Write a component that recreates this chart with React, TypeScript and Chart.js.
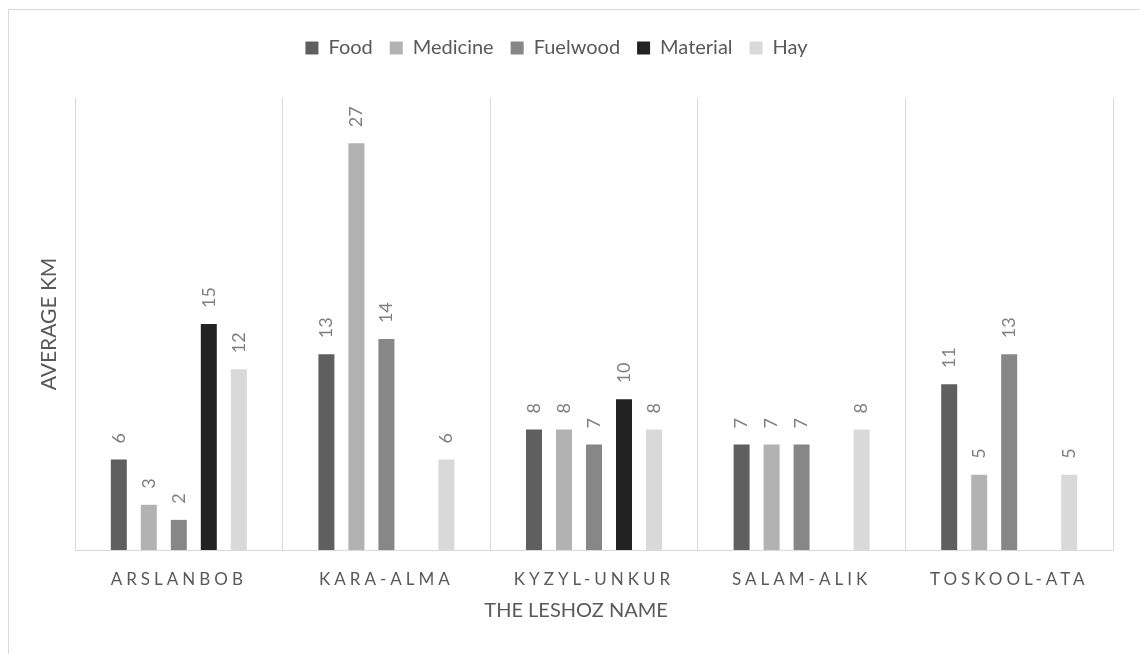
import React, { useEffect, useRef } from "react";
import { Chart, registerables, CategoryScale } from "chart.js";

Chart.register(...registerables);

class SpacedCategoryScale extends CategoryScale {
  static id = "spacedCategory";
  static defaults = CategoryScale.defaults;
  drawLabels(chartArea: any) {
    const ctx: any = this.ctx;
    const prev = ctx.letterSpacing;
    ctx.letterSpacing = "4px";
    super.drawLabels(chartArea);
    ctx.letterSpacing = prev ?? "0px";
  }
}
Chart.register(SpacedCategoryScale as any);

const categories = ["ARSLANBOB", "KARA-ALMA", "KYZYL-UNKUR", "SALAM-ALIK", "TOSKOOL-ATA"];
const food = [6, 13, 8, 7, 11];
const medicine = [3, 27, 8, 7, 5];
const fuelwood = [2, 14, 7, 7, 13];
const material = [15, null, 10, null, null];
const hay = [12, 6, 8, 8, 5];

const seriesNames = ["Food", "Medicine", "Fuelwood", "Material", "Hay"];
const seriesColors = ["#5f5f5f", "#b2b2b2", "#878787", "#222222", "#d9d9d9"];
const seriesValues = [food, medicine, fuelwood, material, hay];

const FONT = "Lato";

const dataLabels = {
  id: "dataLabels",
  afterDatasetsDraw(chart: any) {
    const ctx = chart.ctx;
    chart.data.datasets.forEach((ds: any, i: number) => {
      const meta = chart.getDatasetMeta(i);
      meta.data.forEach((bar: any, j: number) => {
        const v = ds.data[j];
        if (v == null) return;
        ctx.save();
        ctx.translate(bar.x, bar.y - 16);
        ctx.rotate(-Math.PI / 2);
        ctx.font = `18px ${FONT}`;
        ctx.fillStyle = "#7f7f7f";
        ctx.textAlign = "left";
        ctx.textBaseline = "middle";
        ctx.fillText(String(v), 0, 0);
        ctx.restore();
      });
    });
  },
};

const legendSpacer = {
  id: "legendSpacer",
  beforeLayout(chart: any) {
    const legend = chart.legend;
    if (legend && !legend._spacerPatched) {
      const fit = legend.fit;
      legend.fit = function () {
        fit.call(this);
        this.height += 30;
      };
      legend._spacerPatched = true;
    }
  },
};

export default function App() {
  const canvasRef = useRef<HTMLCanvasElement | null>(null);

  useEffect(() => {
    document.body.style.margin = "0";
    document.body.style.background = "#ffffff";
    const canvas = canvasRef.current;
    if (!canvas) return;
    const chart = new Chart(canvas, {
      type: "bar",
      data: {
        labels: categories,
        datasets: seriesNames.map((name, i) => ({
          label: name,
          data: seriesValues[i] as any,
          backgroundColor: seriesColors[i],
          borderWidth: 0,
          categoryPercentage: 0.7225,
          barPercentage: 0.533,
        })),
      },
      options: {
        animation: false,
        responsive: false,
        maintainAspectRatio: false,
        layout: { padding: { top: 21, right: 27, left: 0, bottom: 0 } },
        plugins: {
          tooltip: { enabled: false },
          legend: {
            position: "top",
            labels: {
              boxWidth: 13,
              boxHeight: 13,
              padding: 17,
              color: "#595959",
              font: { family: FONT, size: 20 },
            },
          },
        },
        scales: {
          x: {
            type: "spacedCategory" as any,
            offset: true,
            grid: { offset: true, color: "#d9d9d9", drawTicks: false, lineWidth: 1 },
            border: { display: true, color: "#d9d9d9", width: 1 },
            ticks: { color: "#595959", font: { family: FONT, size: 17 }, padding: 19, maxRotation: 0 },
            title: {
              display: true,
              text: "THE LESHOZ NAME       ",
              color: "#595959",
              font: { family: FONT, size: 20 },
              padding: { top: 0, bottom: 31 },
            },
            afterFit: (scale: any) => {
              scale.height = 104;
            },
          } as any,
          y: {
            min: 0,
            max: 30,
            grid: { display: false },
            border: { display: false },
            ticks: { display: false },
            title: {
              display: true,
              text: "AVERAGE KM",
              color: "#595959",
              font: { family: FONT, size: 21 },
              padding: { top: 37, bottom: 0 },
            },
            afterFit: (scale: any) => {
              scale.width = 75;
            },
          },
        },
      },
      plugins: [dataLabels, legendSpacer],
    });
    return () => chart.destroy();
  }, []);

  return (
    <div style={{ position: "fixed", left: 0, top: 0, width: 1140, height: 654, overflow: "hidden", background: "#fff" }}>
      <div
        style={{
          position: "absolute",
          left: 8,
          top: 9,
          width: 1200,
          height: 700,
          border: "1px solid #d9d9d9",
          boxSizing: "border-box",
        }}
      />
      <canvas ref={canvasRef} width={1140} height={654} style={{ position: "absolute", left: 0, top: 0, width: 1140, height: 654 }} />
    </div>
  );
}
